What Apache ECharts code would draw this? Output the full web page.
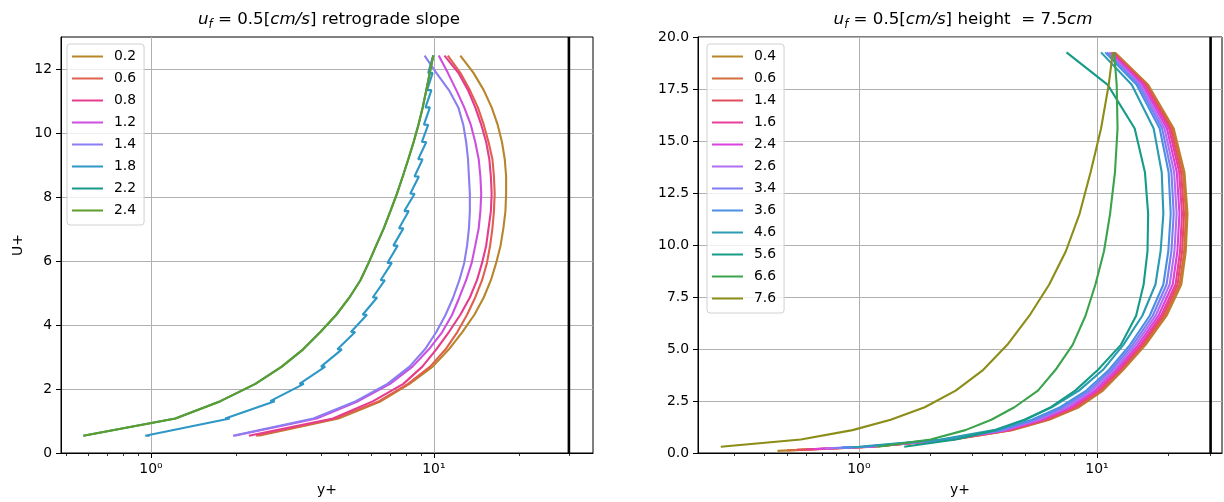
<!DOCTYPE html>
<html><head><meta charset="utf-8">
<script src="https://cdn.jsdelivr.net/npm/echarts@6/dist/echarts.min.js"></script>
<style>html,body{margin:0;padding:0;background:#fff}#c{width:1224px;height:502px}</style>
</head><body><div id="c"></div>
<script>
// ---------- LEFT PANEL DATA (x = y+, y = U+) ----------
const yL = [0.54,1.08,1.62,2.16,2.70,3.24,3.78,4.32,4.86,5.40,5.94,6.48,7.02,7.56,8.10,8.64,9.18,9.72,10.26,10.80,11.34,11.88,12.42];
const leftNames = ['0.2','0.6','0.8','1.2','1.4','1.8','2.2','2.4'];
const leftColors = ['#b8852a','#e0604e','#e63c8e','#cd4fe0','#8a7ef2','#2f97c6','#17998a','#5e9c2c'];
const L02 = [2.40,4.6,6.5,8.2,9.9,11.3,12.6,13.9,15.0,15.9,16.6,17.2,17.6,17.9,18.0,18.0,17.8,17.4,16.8,16.0,15.0,13.8,12.4];
const L06 = [2.35,4.5,6.4,8.1,9.7,11.0,12.1,13.1,14.0,14.8,15.4,15.8,16.1,16.3,16.4,16.3,16.1,15.6,15.0,14.3,13.4,12.4,11.2];
const L08 = [2.22,4.4,6.1,7.8,9.1,10.2,11.3,12.4,13.4,14.2,14.8,15.3,15.6,15.9,16.0,15.9,15.7,15.3,14.7,14.0,13.2,12.2,10.9];
const L12 = [1.97,3.85,5.4,7.0,8.4,9.6,10.7,11.6,12.3,13.0,13.6,14.0,14.4,14.6,14.7,14.6,14.4,14.0,13.5,12.8,12.0,11.2,10.4];
const L14 = [1.95,3.75,5.3,6.85,8.2,9.3,10.2,11.0,11.7,12.3,12.8,13.1,13.3,13.4,13.4,13.3,13.2,13.0,12.7,12.2,11.3,10.2,9.27];
const L18 = [0.99,1.90,2.74,3.47,4.13,4.73,5.27,5.80,6.3,6.71,7.1,7.45,7.8,8.15,8.55,8.85,9.12,9.4,9.55,9.68,9.8,9.9,9.95];
const L18notch = [0.955,1.83,2.64,3.35,3.99,4.56,5.09,5.60,6.08,6.48,6.85,7.19,7.53,7.86,8.25,8.54,8.80,9.07,9.22,9.34,9.46,9.55,null];
const L22 = [0.577,1.22,1.76,2.34,2.90,3.45,3.97,4.52,5.03,5.5,5.88,6.25,6.65,7.02,7.4,7.76,8.12,8.48,8.82,9.13,9.4,9.67,9.95];
const L24 = [0.577,1.22,1.76,2.34,2.90,3.45,3.97,4.52,5.03,5.5,5.88,6.25,6.65,7.02,7.4,7.76,8.12,8.48,8.82,9.13,9.4,9.67,9.95];

// ---------- RIGHT PANEL DATA ----------
const yR = [0.3,0.65,1.1,1.6,2.2,3.0,4.0,5.2,6.6,8.1,9.7,11.5,13.5,15.6,17.7,19.26];
const rightNames = ['0.4','0.6','1.4','1.6','2.4','2.6','3.4','3.6','4.6','5.6','6.6','7.6'];
const rightColors = ['#b8852a','#d56c3b','#e24f5c','#e8409a','#da40dc','#b06ef2','#7d7df3','#4a8fe2','#2a9bb2','#159c86','#3aa34c','#8b8d18'];
const rStartX = [0.455,0.50,0.55,0.60,0.65,0.72,0.78,0.85,0.94,null,null,null];
const rStartY = [0.10,0.124,0.148,0.17,0.19,0.217,0.237,0.259,0.284,null,null,null];
const R04 = [1.15,2.5,4.4,6.3,8.4,10.6,12.9,16.0,19.6,22.6,23.6,24.0,23.3,21.0,16.4,11.9];
const R06 = [1.14,2.48,4.35,6.21,8.26,10.45,12.74,15.78,19.31,22.25,23.24,23.65,22.98,20.74,16.23,11.8];
const R14 = [1.13,2.45,4.29,6.08,8.09,10.25,12.53,15.5,18.94,21.8,22.78,23.2,22.56,20.41,16.02,11.66];
const R16 = [1.11,2.43,4.23,5.96,7.91,10.05,12.33,15.23,18.58,21.38,22.33,22.75,22.15,20.08,15.8,11.53];
const R24 = [1.10,2.39,4.15,5.81,7.70,9.81,12.07,14.88,18.12,20.8,21.76,22.2,21.64,19.67,15.54,11.36];
const R26 = [1.08,2.36,4.06,5.65,7.46,9.54,11.8,14.51,17.63,20.2,21.15,21.6,21.09,19.22,15.25,11.18];
const R34 = [1.06,2.32,3.98,5.49,7.23,9.28,11.52,14.14,17.14,19.6,20.54,21.0,20.54,18.78,14.96,11.0];
const R36 = [1.04,2.28,3.90,5.33,7.0,9.02,11.24,13.77,16.65,19.0,19.93,20.4,19.99,18.34,14.67,10.82];
const R46 = [1.0,2.2,3.7,4.95,6.45,8.4,10.6,12.9,15.5,17.6,18.5,19.0,18.7,17.3,14.0,10.4];
const R56 = [1.55,2.55,3.75,5.0,6.4,8.1,10.1,12.6,14.6,15.7,16.3,16.4,15.9,14.4,11.1,7.45];
const R66 = [1.2,2.0,2.8,3.6,4.5,5.65,6.7,7.9,8.95,9.85,10.7,11.35,11.9,12.2,12.1,11.8];
const R76 = [0.263,0.57,0.94,1.36,1.89,2.55,3.33,4.2,5.2,6.3,7.4,8.45,9.4,10.4,11.2,11.65];

// axis ticks / limits
const leftXRange = [0.481, 36.5];
const rightXRange = [0.211, 33.5];
const majorX = [1, 10];
const leftMinorX = [0.5,0.6,0.7,0.8,0.9,2,3,4,5,6,7,8,9,20,30];
const rightMinorX = [0.3,0.4,0.5,0.6,0.7,0.8,0.9,2,3,4,5,6,7,8,9,20,30];
const leftYTicks = [0,2,4,6,8,10,12];
const rightYTicks = [0,2.5,5,7.5,10,12.5,15,17.5,20];
const wallX = 30;

const FONT = 'DejaVu Sans';
const chart = echarts.init(document.getElementById('c'), null, {renderer:'canvas'});

function pairs(xs, ys){ const out=[]; xs.forEach((x,i)=>{ if(x!=null) out.push([x, ys[i]]); }); return out; }

const leftX = [L02,L06,L08,L12,L14,null,L22,L24];
const rightX = [R04,R06,R14,R16,R24,R26,R34,R36,R46,R56,R66,R76];

const series = [];
leftNames.forEach((n,i)=>{
  let data;
  if (i===5){
    data=[];
    L18.forEach((x,k)=>{ data.push([x,yL[k]]); if(L18notch[k]!=null) data.push([L18notch[k], yL[k]]); });
  } else data = pairs(leftX[i], yL);
  series.push({type:'line', name:'L'+n, xAxisIndex:0, yAxisIndex:0, data, showSymbol:false, symbol:'none',
    color:leftColors[i], lineStyle:{color:leftColors[i], width:2.1}, emphasis:{disabled:true}});
});
rightNames.forEach((n,i)=>{
  const data = [];
  if (rStartX[i]!=null) data.push([rStartX[i], rStartY[i]]);
  pairs(rightX[i], yR).forEach(p=>data.push(p));
  series.push({type:'line', name:'R'+n, xAxisIndex:2, yAxisIndex:1, data, showSymbol:false, symbol:'none',
    color:rightColors[i], lineStyle:{color:rightColors[i], width:2.1}, emphasis:{disabled:true}});
});
series.push({type:'line', name:'wallL', xAxisIndex:0, yAxisIndex:0, data:[[wallX,0],[wallX,13]], showSymbol:false, symbol:'none', color:'#000', lineStyle:{color:'#000', width:2.6}, silent:true});
series.push({type:'line', name:'wallR', xAxisIndex:2, yAxisIndex:1, data:[[wallX,0],[wallX,20]], showSymbol:false, symbol:'none', color:'#000', lineStyle:{color:'#000', width:2.6}, silent:true});

const txt = {color:'#000', fontFamily:FONT, fontSize:13.9};
function xAxes(gi, range, minors){
  return [{
    type:'log', logBase:10, gridIndex:gi, min:range[0], max:range[1],
    name:'y+', nameLocation:'middle', nameGap:30, nameTextStyle:txt,
    axisLine:{show:true, onZero:false, lineStyle:{color:'#000', width:1}},
    axisTick:{show:true, length:5, lineStyle:{color:'#000', width:1}, customValues:majorX},
    axisLabel:Object.assign({customValues:majorX, margin:9, formatter:v=>{const e=Math.round(Math.log10(v)); return e===0?'10⁰':(e===1?'10¹':'');}}, txt),
    splitLine:{show:true, lineStyle:{color:'#b0b0b0', width:1}}
  },{
    type:'log', logBase:10, gridIndex:gi, min:range[0], max:range[1], position:'bottom',
    axisLine:{show:false}, axisLabel:{show:false}, splitLine:{show:false},
    axisTick:{show:true, length:3, lineStyle:{color:'#000', width:0.8}, customValues:minors}
  }];
}

const richT = {
  n:{fontSize:16.7, fontFamily:FONT, fill:'#000', lineHeight:22},
  i:{fontSize:16.7, fontFamily:FONT, fontStyle:'italic', fill:'#000', lineHeight:22},
  s:{fontSize:11.5, fontFamily:FONT, fontStyle:'italic', fill:'#000', lineHeight:13, verticalAlign:'bottom'}
};

const legendBase = {
  orient:'vertical', top:44, icon:'rect', itemWidth:31, itemHeight:2, itemGap:7,
  padding:[5,8,7,5], backgroundColor:'rgba(255,255,255,0.8)', borderColor:'#d0d0d0', borderWidth:1, borderRadius:3,
  textStyle:{color:'#000', fontFamily:FONT, fontSize:13.9, lineHeight:15, padding:[0,0,0,6]},
  formatter: n=>n.slice(1), selectedMode:false
};

chart.setOption({
  animation:false,
  grid:[
    {left:61, top:37, width:532, height:416, show:true, borderColor:'#000', borderWidth:1, backgroundColor:'transparent'},
    {left:698, top:37, width:524, height:416, show:true, borderColor:'#000', borderWidth:1, backgroundColor:'transparent'}
  ],
  xAxis:[...xAxes(0,leftXRange,leftMinorX), ...xAxes(1,rightXRange,rightMinorX)],
  yAxis:[
    {type:'value', gridIndex:0, min:0, max:13, interval:2, name:'U+', nameLocation:'middle', nameGap:36, nameTextStyle:txt,
     axisLine:{show:true, lineStyle:{color:'#000', width:1}},
     axisTick:{show:true, length:5, lineStyle:{color:'#000'}, customValues:leftYTicks},
     axisLabel:Object.assign({customValues:leftYTicks, margin:9}, txt),
     splitLine:{show:true, lineStyle:{color:'#b0b0b0', width:1}}},
    {type:'value', gridIndex:1, min:0, max:20, interval:2.5,
     axisLine:{show:true, lineStyle:{color:'#000', width:1}},
     axisTick:{show:true, length:5, lineStyle:{color:'#000'}},
     axisLabel:Object.assign({margin:9, formatter:v=>v.toFixed(1)}, txt),
     splitLine:{show:true, lineStyle:{color:'#b0b0b0', width:1}}}
  ],
  legend:[
    Object.assign({}, legendBase, {left:67, data:leftNames.map(n=>'L'+n)}),
    Object.assign({}, legendBase, {left:707, data:rightNames.map(n=>'R'+n)})
  ],
  graphic:[
    {type:'text', x:329, y:20, style:{text:'{i|u}{s|f}{n| = 0.5[}{i|cm/s}{n|] retrograde slope}', rich:richT, align:'center', verticalAlign:'middle'}},
    {type:'text', x:963, y:20, style:{text:'{i|u}{s|f}{n| = 0.5[}{i|cm/s}{n|] height  = 7.5}{i|cm}', rich:richT, align:'center', verticalAlign:'middle'}}
  ],
  series
});
</script></body></html>
